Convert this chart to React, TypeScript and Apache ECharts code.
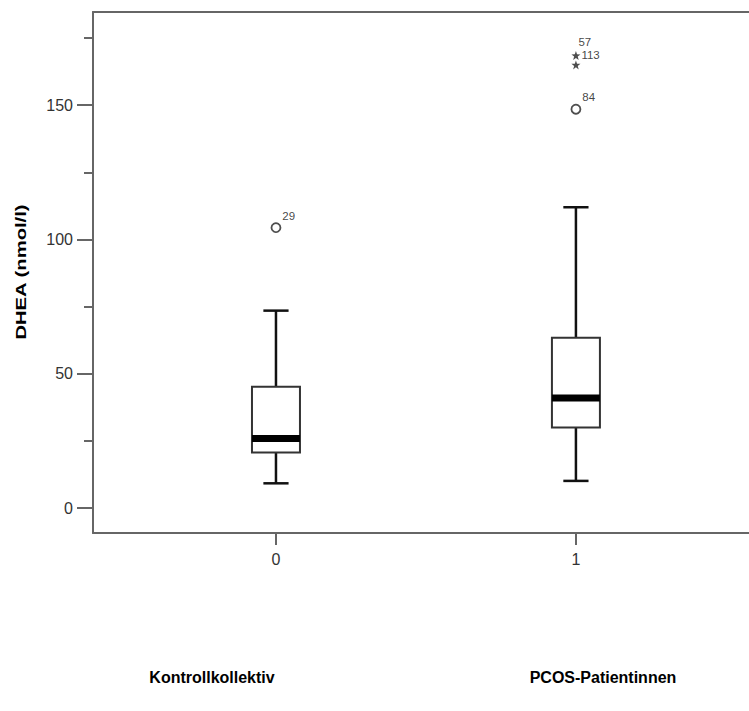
import React, { useEffect, useRef } from "react";
import * as echarts from "echarts";

const groups = [0, 1];
const groupNames = ["Kontrollkollektiv", "PCOS-Patientinnen"];
const whiskerLow = [9.2, 10.1];
const q1 = [20.7, 30.0];
const median = [25.9, 41.0];
const q3 = [45.2, 63.4];
const whiskerHigh = [73.5, 112.0];
const circleOutliers: [number, number, string][] = [
  [0, 104.4, "29"],
  [1, 148.5, "84"],
];
const starOutliers: [number, number, string][] = [
  [1, 168.5, "57"],
  [1, 165.0, "113"],
];
const yMajorTicks = [0, 50, 100, 150];
const yMinorTicks = [25, 75, 125, 175];
const xTicks = [0, 1];

const STAR =
  "path://M0,-10 L2.35,-3.24 L9.51,-3.09 L3.8,1.24 L5.88,8.09 L0,4 L-5.88,8.09 L-3.8,1.24 L-9.51,-3.09 L-2.35,-3.24Z";

export default function App() {
  const ref = useRef<HTMLDivElement>(null);
  useEffect(() => {
    if (!ref.current) return;
    const chart = echarts.init(ref.current, null, { renderer: "svg" });
    const font = "Liberation Sans, Arial, sans-serif";
    const axisGrey = "#666";
    const boxData = groups.map((g, i) => [
      g,
      whiskerLow[i],
      q1[i],
      median[i],
      q3[i],
      whiskerHigh[i],
    ]);
    const outlierLabel = {
      show: true,
      position: "right",
      distance: 1,
      offset: [0, -12],
      fontSize: 11.5,
      fontFamily: font,
      color: "#111",
      formatter: (p: any) => p.value[2],
    };
    // stacked star labels: first one sits a little higher so both stay legible
    const starData = starOutliers.map((d, i) => ({
      value: d,
      label: { offset: i === 0 ? [-3, -14] : [0, -10] },
    }));
    chart.setOption({
      animation: false,
      grid: { left: 93, top: 12, right: 0, bottom: 178 },
      xAxis: [
        {
          type: "value",
          min: -0.61,
          max: 1.577,
          splitLine: { show: false },
          axisLine: { show: true, onZero: false, lineStyle: { color: axisGrey, width: 2 } },
          axisTick: {
            show: true,
            customValues: xTicks,
            length: 12,
            lineStyle: { color: axisGrey, width: 2 },
          },
          axisLabel: {
            customValues: xTicks,
            margin: 18,
            fontSize: 16,
            fontFamily: font,
            color: "#333",
          },
        },
        {
          type: "value",
          position: "top",
          min: -0.61,
          max: 1.577,
          splitLine: { show: false },
          axisLine: { show: true, onZero: false, lineStyle: { color: axisGrey, width: 2 } },
          axisTick: { show: false },
          axisLabel: { show: false },
        },
      ],
      yAxis: [
        {
          type: "value",
          min: -9.3,
          max: 184.7,
          splitLine: { show: false },
          axisLine: { show: true, onZero: false, lineStyle: { color: axisGrey, width: 2 } },
          axisTick: {
            show: true,
            customValues: yMajorTicks,
            length: 16,
            lineStyle: { color: axisGrey, width: 2 },
          },
          axisLabel: {
            customValues: yMajorTicks,
            margin: 20,
            fontSize: 16,
            fontFamily: font,
            color: "#333",
          },
        },
        {
          type: "value",
          position: "left",
          min: -9.3,
          max: 184.7,
          splitLine: { show: false },
          axisLine: { show: false, onZero: false },
          axisTick: {
            show: true,
            customValues: yMinorTicks,
            length: 9,
            lineStyle: { color: axisGrey, width: 2 },
          },
          axisLabel: { show: false },
        },
      ],
      series: [
        {
          type: "custom",
          data: boxData,
          encode: { x: 0, y: [1, 2, 3, 4, 5] },
          renderItem: (params: any, api: any) => {
            const x = api.value(0);
            const lo = api.coord([x, api.value(1)]);
            const b1 = api.coord([x, api.value(2)]);
            const md = api.coord([x, api.value(3)]);
            const b3 = api.coord([x, api.value(4)]);
            const hi = api.coord([x, api.value(5)]);
            const cx = lo[0];
            const half = api.size([0.16, 0])[0] / 2;
            const cap = api.size([0.084, 0])[0] / 2;
            const lineStyle = { stroke: "#111", lineWidth: 2.5 };
            return {
              type: "group",
              children: [
                { type: "line", shape: { x1: cx, y1: hi[1], x2: cx, y2: b3[1] }, style: lineStyle },
                { type: "line", shape: { x1: cx, y1: b1[1], x2: cx, y2: lo[1] }, style: lineStyle },
                { type: "line", shape: { x1: cx - cap, y1: hi[1], x2: cx + cap, y2: hi[1] }, style: lineStyle },
                { type: "line", shape: { x1: cx - cap, y1: lo[1], x2: cx + cap, y2: lo[1] }, style: lineStyle },
                {
                  type: "rect",
                  shape: { x: cx - half, y: b3[1], width: half * 2, height: b1[1] - b3[1] },
                  style: { fill: "#fff", stroke: "#333", lineWidth: 2 },
                },
                {
                  type: "rect",
                  shape: { x: cx - half, y: md[1] - 3.5, width: half * 2, height: 7 },
                  style: { fill: "#000" },
                },
              ],
            };
          },
        },
        {
          type: "scatter",
          symbol: "circle",
          symbolSize: 9,
          itemStyle: { color: "#fff", borderColor: "#222", borderWidth: 1.8 },
          data: circleOutliers,
          label: outlierLabel,
        },
        {
          type: "scatter",
          symbol: STAR,
          symbolSize: 9,
          itemStyle: { color: "#222" },
          data: starData,
          label: outlierLabel,
        },
      ],
      graphic: [
        {
          type: "text",
          x: 21,
          y: 272,
          rotation: Math.PI / 2,
          scaleX: 1.35,
          style: {
            text: "DHEA (nmol/l)",
            font: "bold 15px Liberation Sans, Arial, sans-serif",
            fill: "#000",
            textAlign: "center",
            textVerticalAlign: "middle",
          },
        },
        {
          type: "text",
          x: 212,
          y: 677,
          style: {
            text: groupNames[0],
            font: "bold 16px Liberation Sans, Arial, sans-serif",
            fill: "#000",
            textAlign: "center",
            textVerticalAlign: "middle",
          },
        },
        {
          type: "text",
          x: 603,
          y: 677,
          style: {
            text: groupNames[1],
            font: "bold 16px Liberation Sans, Arial, sans-serif",
            fill: "#000",
            textAlign: "center",
            textVerticalAlign: "middle",
          },
        },
      ],
    });
    return () => chart.dispose();
  }, []);
  return <div ref={ref} style={{ width: 749, height: 711, position: "absolute", left: 0, top: 0 }} />;
}
